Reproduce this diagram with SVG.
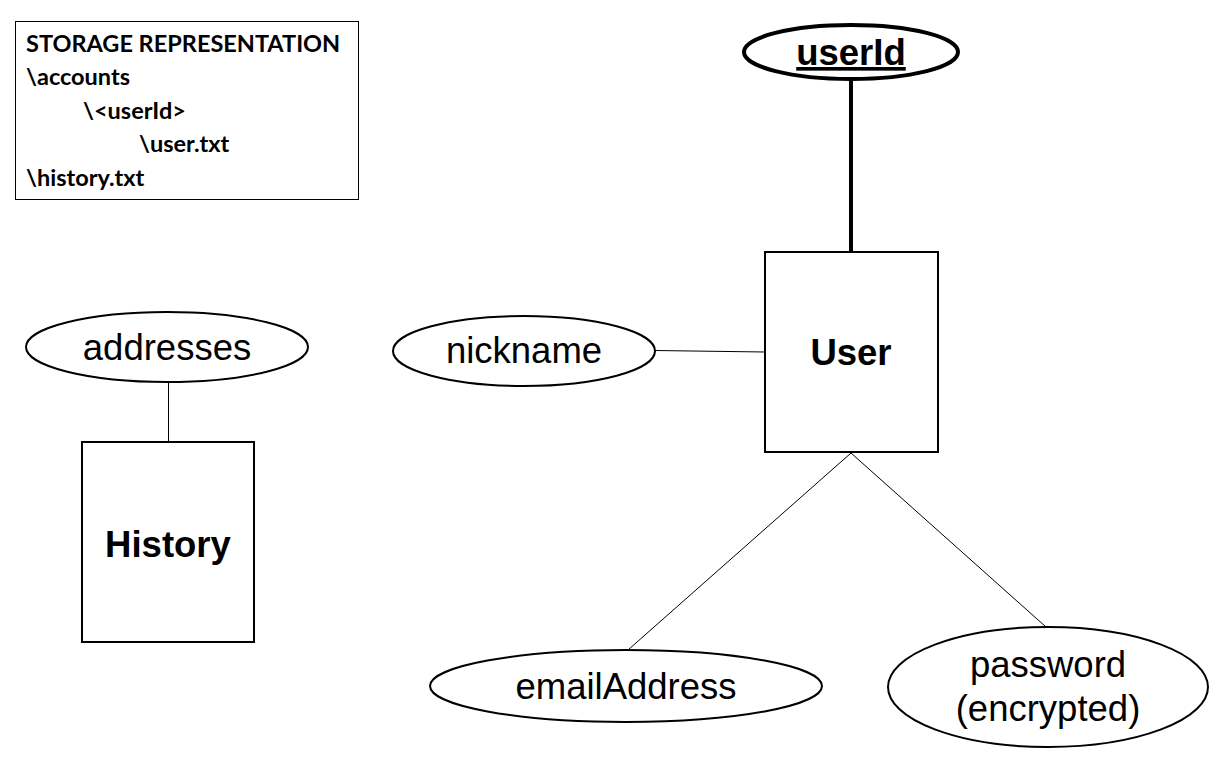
<svg xmlns="http://www.w3.org/2000/svg" width="1227" height="763" viewBox="0 0 1227 763">
<style>
.shape{fill:#fff;stroke:#000;stroke-width:2}
.thin{stroke:#000;stroke-width:1;fill:none}
.lbl{font-family:"Liberation Sans",Arial,sans-serif;font-size:36.5px;text-anchor:middle;fill:#000}
.b{font-weight:bold}
.st{font-family:Lato,"Open Sans",sans-serif;font-weight:bold;font-size:23.5px;fill:#000}
</style>
<rect x="0" y="0" width="1227" height="763" fill="#fff"/>
<g id="storage">
<rect x="15.5" y="21.5" width="343" height="178" fill="#fff" stroke="#000" stroke-width="1"/>
<text class="st" x="26" y="52">STORAGE REPRESENTATION</text>
<text class="st" x="26" y="85">\accounts</text>
<text class="st" x="83" y="119">\&lt;userId&gt;</text>
<text class="st" x="139" y="152">\user.txt</text>
<text class="st" x="26" y="186">\history.txt</text>
</g>
<g id="connectors">
<line x1="851" y1="80" x2="851" y2="252" stroke="#000" stroke-width="4"/>
<line class="thin" x1="655" y1="350.5" x2="765" y2="352"/>
<line class="thin" x1="168.5" y1="383" x2="168.5" y2="442"/>
<line class="thin" x1="851" y1="453" x2="628" y2="650"/>
<line class="thin" x1="851" y1="453" x2="1046" y2="627"/>
</g>
<g id="userId">
<ellipse cx="851" cy="52" rx="107" ry="27" fill="#fff" stroke="#000" stroke-width="4"/>
<text class="lbl b" x="851" y="65" text-decoration="underline">userId</text>
</g>
<g id="User">
<rect class="shape" x="765" y="252" width="173" height="200"/>
<text class="lbl b" x="851" y="365">User</text>
</g>
<g id="nickname">
<ellipse class="shape" cx="524" cy="351" rx="131" ry="35"/>
<text class="lbl" x="524" y="363">nickname</text>
</g>
<g id="addresses">
<ellipse class="shape" cx="167" cy="347" rx="141" ry="35"/>
<text class="lbl" x="167" y="360">addresses</text>
</g>
<g id="History">
<rect class="shape" x="82" y="442" width="172" height="200"/>
<text class="lbl b" x="168" y="557">History</text>
</g>
<g id="emailAddress">
<ellipse class="shape" cx="626" cy="686" rx="196" ry="36"/>
<text class="lbl" x="626" y="699">emailAddress</text>
</g>
<g id="password">
<ellipse class="shape" cx="1048" cy="687" rx="160" ry="60"/>
<text class="lbl" x="1048" y="677">password</text>
<text class="lbl" x="1048" y="721">(encrypted)</text>
</g>
</svg>
